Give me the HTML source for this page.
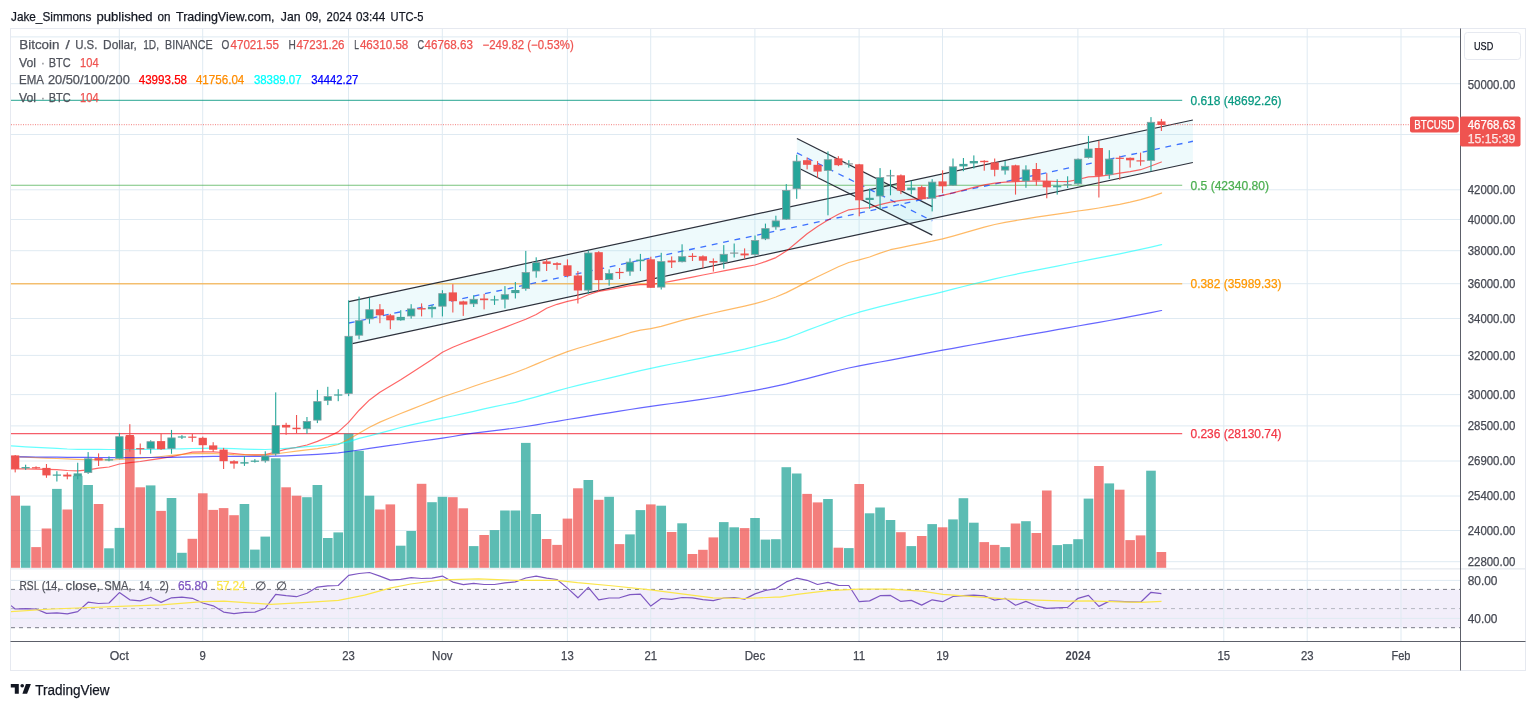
<!DOCTYPE html>
<html lang="en"><head><meta charset="utf-8"><title>BTCUSD chart</title>
<style>
html,body{margin:0;padding:0;background:#fff;}
body{width:1536px;height:708px;overflow:hidden;font-family:"Liberation Sans",sans-serif;}
svg{display:block;font-family:"Liberation Sans",sans-serif;}
.g{stroke:#dfeaf2;stroke-width:1}
.t{fill:#3a3e4a;font-size:12px}
</style></head><body>
<svg width="1536" height="708" viewBox="0 0 1536 708">
<rect width="1536" height="708" fill="#fff"/>
<defs><clipPath id="cp"><rect x="11" y="28.5" width="1449.5" height="540"/></clipPath><clipPath id="cr"><rect x="11" y="569" width="1449.5" height="72"/></clipPath></defs>
<rect x="11" y="589.4" width="1449.5" height="38.3" fill="#f2eefa"/>
<g class="g"><line x1="11" x2="1460" y1="36.9" y2="36.9"/><line x1="11" x2="1460" y1="83.7" y2="83.7"/><line x1="11" x2="1460" y1="134.5" y2="134.5"/><line x1="11" x2="1460" y1="189.8" y2="189.8"/><line x1="11" x2="1460" y1="219.5" y2="219.5"/><line x1="11" x2="1460" y1="250.7" y2="250.7"/><line x1="11" x2="1460" y1="283.7" y2="283.7"/><line x1="11" x2="1460" y1="318.5" y2="318.5"/><line x1="11" x2="1460" y1="355.4" y2="355.4"/><line x1="11" x2="1460" y1="394.6" y2="394.6"/><line x1="11" x2="1460" y1="425.9" y2="425.9"/><line x1="11" x2="1460" y1="461.0" y2="461.0"/><line x1="11" x2="1460" y1="496.0" y2="496.0"/><line x1="11" x2="1460" y1="530.5" y2="530.5"/><line x1="11" x2="1460" y1="561.7" y2="561.7"/><line x1="11" x2="1460" y1="580.4" y2="580.4"/><line x1="11" x2="1460" y1="618.4" y2="618.4"/><line x1="119.3" x2="119.3" y1="28.5" y2="641"/><line x1="202.7" x2="202.7" y1="28.5" y2="641"/><line x1="348.5" x2="348.5" y1="28.5" y2="641"/><line x1="442.3" x2="442.3" y1="28.5" y2="641"/><line x1="567.4" x2="567.4" y1="28.5" y2="641"/><line x1="650.7" x2="650.7" y1="28.5" y2="641"/><line x1="754.9" x2="754.9" y1="28.5" y2="641"/><line x1="859.1" x2="859.1" y1="28.5" y2="641"/><line x1="942.5" x2="942.5" y1="28.5" y2="641"/><line x1="1077.9" x2="1077.9" y1="28.5" y2="641"/><line x1="1223.8" x2="1223.8" y1="28.5" y2="641"/><line x1="1307.2" x2="1307.2" y1="28.5" y2="641"/><line x1="1401.0" x2="1401.0" y1="28.5" y2="641"/></g>
<rect x="10.5" y="28.5" width="1515" height="642" fill="none" stroke="#e6e9f0" stroke-width="1"/>
<line x1="11" x2="1525" y1="568.9" y2="568.9" stroke="#dfe3ea" stroke-width="1"/>
<g clip-path="url(#cp)">
<polygon points="348.9,301.7 1192.9,120.0 1192.9,162.5 348.9,344.3" fill="rgba(120,215,230,0.13)"/>
<polygon points="796.9,138.5 932.3,206.6 932.3,235.1 796.9,167.3" fill="rgba(120,215,230,0.13)"/>
<line x1="11" x2="1182.2" y1="100.3" y2="100.3" stroke="#089981" stroke-width="1.3" stroke-opacity="0.7"/>
<line x1="11" x2="1182.2" y1="185.3" y2="185.3" stroke="#4caf50" stroke-width="1.1" stroke-opacity="0.75"/>
<line x1="11" x2="1182.2" y1="283.8" y2="283.8" stroke="#ff9800" stroke-width="1.6" stroke-opacity="0.55"/>
<line x1="11" x2="1182.2" y1="433.6" y2="433.6" stroke="#f23645" stroke-width="1.2" stroke-opacity="0.8"/>
<rect x="10.40" y="495.7" width="9.6" height="72.1" fill="rgba(239,83,80,0.75)"/><rect x="20.82" y="505.7" width="9.6" height="62.1" fill="rgba(38,166,154,0.75)"/><rect x="31.24" y="547.1" width="9.6" height="20.7" fill="rgba(239,83,80,0.75)"/><rect x="41.66" y="528.5" width="9.6" height="39.3" fill="rgba(239,83,80,0.75)"/><rect x="52.08" y="488.9" width="9.6" height="78.9" fill="rgba(38,166,154,0.75)"/><rect x="62.50" y="509.5" width="9.6" height="58.3" fill="rgba(239,83,80,0.75)"/><rect x="72.92" y="475.8" width="9.6" height="92.0" fill="rgba(38,166,154,0.75)"/><rect x="83.34" y="485.0" width="9.6" height="82.8" fill="rgba(38,166,154,0.75)"/><rect x="93.76" y="504.0" width="9.6" height="63.8" fill="rgba(239,83,80,0.75)"/><rect x="104.18" y="548.3" width="9.6" height="19.5" fill="rgba(38,166,154,0.75)"/><rect x="114.60" y="527.9" width="9.6" height="39.9" fill="rgba(38,166,154,0.75)"/><rect x="125.02" y="436.5" width="9.6" height="131.3" fill="rgba(239,83,80,0.75)"/><rect x="135.44" y="487.3" width="9.6" height="80.5" fill="rgba(239,83,80,0.75)"/><rect x="145.86" y="485.4" width="9.6" height="82.4" fill="rgba(38,166,154,0.75)"/><rect x="156.28" y="510.9" width="9.6" height="56.9" fill="rgba(239,83,80,0.75)"/><rect x="166.70" y="498.0" width="9.6" height="69.8" fill="rgba(38,166,154,0.75)"/><rect x="177.12" y="552.8" width="9.6" height="15.0" fill="rgba(38,166,154,0.75)"/><rect x="187.54" y="538.8" width="9.6" height="29.0" fill="rgba(239,83,80,0.75)"/><rect x="197.96" y="493.3" width="9.6" height="74.5" fill="rgba(239,83,80,0.75)"/><rect x="208.38" y="509.9" width="9.6" height="57.9" fill="rgba(239,83,80,0.75)"/><rect x="218.80" y="508.1" width="9.6" height="59.7" fill="rgba(239,83,80,0.75)"/><rect x="229.22" y="515.2" width="9.6" height="52.6" fill="rgba(239,83,80,0.75)"/><rect x="239.64" y="504.0" width="9.6" height="63.8" fill="rgba(38,166,154,0.75)"/><rect x="250.06" y="549.6" width="9.6" height="18.2" fill="rgba(38,166,154,0.75)"/><rect x="260.48" y="536.6" width="9.6" height="31.2" fill="rgba(38,166,154,0.75)"/><rect x="270.90" y="458.3" width="9.6" height="109.5" fill="rgba(38,166,154,0.75)"/><rect x="281.32" y="487.3" width="9.6" height="80.5" fill="rgba(239,83,80,0.75)"/><rect x="291.74" y="495.7" width="9.6" height="72.1" fill="rgba(239,83,80,0.75)"/><rect x="302.16" y="497.2" width="9.6" height="70.6" fill="rgba(38,166,154,0.75)"/><rect x="312.58" y="485.0" width="9.6" height="82.8" fill="rgba(38,166,154,0.75)"/><rect x="323.00" y="538.0" width="9.6" height="29.8" fill="rgba(38,166,154,0.75)"/><rect x="333.42" y="532.4" width="9.6" height="35.4" fill="rgba(38,166,154,0.75)"/><rect x="343.84" y="433.6" width="9.6" height="134.2" fill="rgba(38,166,154,0.75)"/><rect x="354.26" y="450.8" width="9.6" height="117.0" fill="rgba(38,166,154,0.75)"/><rect x="364.68" y="495.7" width="9.6" height="72.1" fill="rgba(38,166,154,0.75)"/><rect x="375.10" y="509.5" width="9.6" height="58.3" fill="rgba(239,83,80,0.75)"/><rect x="385.52" y="504.4" width="9.6" height="63.4" fill="rgba(239,83,80,0.75)"/><rect x="395.94" y="545.7" width="9.6" height="22.1" fill="rgba(38,166,154,0.75)"/><rect x="406.36" y="531.0" width="9.6" height="36.8" fill="rgba(38,166,154,0.75)"/><rect x="416.78" y="483.8" width="9.6" height="84.0" fill="rgba(239,83,80,0.75)"/><rect x="427.20" y="502.2" width="9.6" height="65.6" fill="rgba(38,166,154,0.75)"/><rect x="437.62" y="496.8" width="9.6" height="71.0" fill="rgba(38,166,154,0.75)"/><rect x="448.04" y="497.2" width="9.6" height="70.6" fill="rgba(239,83,80,0.75)"/><rect x="458.46" y="508.3" width="9.6" height="59.5" fill="rgba(239,83,80,0.75)"/><rect x="468.88" y="546.1" width="9.6" height="21.7" fill="rgba(38,166,154,0.75)"/><rect x="479.30" y="535.0" width="9.6" height="32.8" fill="rgba(239,83,80,0.75)"/><rect x="489.72" y="530.1" width="9.6" height="37.7" fill="rgba(38,166,154,0.75)"/><rect x="500.14" y="510.5" width="9.6" height="57.3" fill="rgba(38,166,154,0.75)"/><rect x="510.56" y="510.5" width="9.6" height="57.3" fill="rgba(38,166,154,0.75)"/><rect x="520.98" y="442.9" width="9.6" height="124.9" fill="rgba(38,166,154,0.75)"/><rect x="531.40" y="514.0" width="9.6" height="53.8" fill="rgba(38,166,154,0.75)"/><rect x="541.82" y="539.0" width="9.6" height="28.8" fill="rgba(239,83,80,0.75)"/><rect x="552.24" y="544.9" width="9.6" height="22.9" fill="rgba(239,83,80,0.75)"/><rect x="562.66" y="518.6" width="9.6" height="49.2" fill="rgba(239,83,80,0.75)"/><rect x="573.08" y="488.3" width="9.6" height="79.5" fill="rgba(239,83,80,0.75)"/><rect x="583.50" y="480.0" width="9.6" height="87.8" fill="rgba(38,166,154,0.75)"/><rect x="593.92" y="499.8" width="9.6" height="68.0" fill="rgba(239,83,80,0.75)"/><rect x="604.34" y="496.8" width="9.6" height="71.0" fill="rgba(38,166,154,0.75)"/><rect x="614.76" y="544.1" width="9.6" height="23.7" fill="rgba(239,83,80,0.75)"/><rect x="625.18" y="534.4" width="9.6" height="33.4" fill="rgba(38,166,154,0.75)"/><rect x="635.60" y="510.1" width="9.6" height="57.7" fill="rgba(38,166,154,0.75)"/><rect x="646.02" y="504.4" width="9.6" height="63.4" fill="rgba(239,83,80,0.75)"/><rect x="656.44" y="505.7" width="9.6" height="62.1" fill="rgba(38,166,154,0.75)"/><rect x="666.86" y="532.0" width="9.6" height="35.8" fill="rgba(239,83,80,0.75)"/><rect x="677.28" y="523.3" width="9.6" height="44.5" fill="rgba(38,166,154,0.75)"/><rect x="687.70" y="554.0" width="9.6" height="13.8" fill="rgba(239,83,80,0.75)"/><rect x="698.12" y="549.8" width="9.6" height="18.0" fill="rgba(239,83,80,0.75)"/><rect x="708.54" y="537.4" width="9.6" height="30.4" fill="rgba(239,83,80,0.75)"/><rect x="718.96" y="522.1" width="9.6" height="45.7" fill="rgba(38,166,154,0.75)"/><rect x="729.38" y="527.3" width="9.6" height="40.5" fill="rgba(38,166,154,0.75)"/><rect x="739.80" y="528.1" width="9.6" height="39.7" fill="rgba(239,83,80,0.75)"/><rect x="750.22" y="518.0" width="9.6" height="49.8" fill="rgba(38,166,154,0.75)"/><rect x="760.64" y="539.6" width="9.6" height="28.2" fill="rgba(38,166,154,0.75)"/><rect x="771.06" y="539.2" width="9.6" height="28.6" fill="rgba(38,166,154,0.75)"/><rect x="781.48" y="467.2" width="9.6" height="100.6" fill="rgba(38,166,154,0.75)"/><rect x="791.90" y="473.5" width="9.6" height="94.3" fill="rgba(38,166,154,0.75)"/><rect x="802.32" y="493.9" width="9.6" height="73.9" fill="rgba(239,83,80,0.75)"/><rect x="812.74" y="502.4" width="9.6" height="65.4" fill="rgba(239,83,80,0.75)"/><rect x="823.16" y="499.0" width="9.6" height="68.8" fill="rgba(38,166,154,0.75)"/><rect x="833.58" y="547.7" width="9.6" height="20.1" fill="rgba(239,83,80,0.75)"/><rect x="844.00" y="548.1" width="9.6" height="19.7" fill="rgba(38,166,154,0.75)"/><rect x="854.42" y="484.0" width="9.6" height="83.8" fill="rgba(239,83,80,0.75)"/><rect x="864.84" y="513.3" width="9.6" height="54.5" fill="rgba(38,166,154,0.75)"/><rect x="875.26" y="507.5" width="9.6" height="60.3" fill="rgba(38,166,154,0.75)"/><rect x="885.68" y="520.0" width="9.6" height="47.8" fill="rgba(38,166,154,0.75)"/><rect x="896.10" y="532.2" width="9.6" height="35.6" fill="rgba(239,83,80,0.75)"/><rect x="906.52" y="546.1" width="9.6" height="21.7" fill="rgba(38,166,154,0.75)"/><rect x="916.94" y="536.0" width="9.6" height="31.8" fill="rgba(239,83,80,0.75)"/><rect x="927.36" y="524.1" width="9.6" height="43.7" fill="rgba(38,166,154,0.75)"/><rect x="937.78" y="527.3" width="9.6" height="40.5" fill="rgba(239,83,80,0.75)"/><rect x="948.20" y="519.4" width="9.6" height="48.4" fill="rgba(38,166,154,0.75)"/><rect x="958.62" y="498.2" width="9.6" height="69.6" fill="rgba(38,166,154,0.75)"/><rect x="969.04" y="522.7" width="9.6" height="45.1" fill="rgba(38,166,154,0.75)"/><rect x="979.46" y="542.1" width="9.6" height="25.7" fill="rgba(239,83,80,0.75)"/><rect x="989.88" y="544.9" width="9.6" height="22.9" fill="rgba(239,83,80,0.75)"/><rect x="1000.30" y="547.1" width="9.6" height="20.7" fill="rgba(38,166,154,0.75)"/><rect x="1010.72" y="523.5" width="9.6" height="44.3" fill="rgba(239,83,80,0.75)"/><rect x="1021.14" y="521.2" width="9.6" height="46.6" fill="rgba(38,166,154,0.75)"/><rect x="1031.56" y="533.0" width="9.6" height="34.8" fill="rgba(239,83,80,0.75)"/><rect x="1041.98" y="490.5" width="9.6" height="77.3" fill="rgba(239,83,80,0.75)"/><rect x="1052.40" y="545.1" width="9.6" height="22.7" fill="rgba(38,166,154,0.75)"/><rect x="1062.82" y="544.1" width="9.6" height="23.7" fill="rgba(38,166,154,0.75)"/><rect x="1073.24" y="539.2" width="9.6" height="28.6" fill="rgba(38,166,154,0.75)"/><rect x="1083.66" y="498.6" width="9.6" height="69.2" fill="rgba(38,166,154,0.75)"/><rect x="1094.08" y="466.0" width="9.6" height="101.8" fill="rgba(239,83,80,0.75)"/><rect x="1104.50" y="483.4" width="9.6" height="84.4" fill="rgba(38,166,154,0.75)"/><rect x="1114.92" y="489.7" width="9.6" height="78.1" fill="rgba(239,83,80,0.75)"/><rect x="1125.34" y="540.1" width="9.6" height="27.7" fill="rgba(239,83,80,0.75)"/><rect x="1135.76" y="535.4" width="9.6" height="32.4" fill="rgba(239,83,80,0.75)"/><rect x="1146.18" y="470.7" width="9.6" height="97.1" fill="rgba(38,166,154,0.75)"/><rect x="1156.60" y="552.0" width="9.6" height="15.8" fill="rgba(239,83,80,0.75)"/>
<g stroke="#2c303b" stroke-width="1.2" fill="none"><line x1="348.9" y1="301.7" x2="1192.9" y2="120.0"/><line x1="348.9" y1="344.3" x2="1192.9" y2="162.5"/><line x1="796.9" y1="138.5" x2="932.3" y2="206.6"/><line x1="796.9" y1="167.3" x2="932.3" y2="235.1"/></g>
<g stroke="#2962ff" stroke-width="1.3" stroke-dasharray="5.85 5.75" fill="none" stroke-opacity="0.9"><line x1="348.9" y1="323.0" x2="1192.9" y2="141.25"/><line x1="796.9" y1="152.9" x2="932.3" y2="220.85"/></g>
<line x1="11" x2="1410" y1="124.7" y2="124.7" stroke="#ef5350" stroke-width="1" stroke-dasharray="1 1.4" stroke-opacity="0.75"/>
<polyline points="10.5,468.9 15.2,468.9 25.6,468.9 36.0,469.1 46.5,469.3 56.9,469.7 67.3,470.5 77.7,470.9 88.1,469.8 98.6,468.2 109.0,467.0 119.4,464.0 129.8,462.7 140.2,461.5 150.7,459.8 161.1,458.4 171.5,456.7 181.9,454.5 192.3,452.2 202.8,451.9 213.2,451.9 223.6,452.5 234.0,453.5 244.4,454.5 254.9,454.8 265.3,454.6 275.7,452.0 286.1,449.2 296.5,447.3 307.0,445.0 317.4,441.4 327.8,436.9 338.2,431.9 348.6,422.4 359.1,410.2 369.5,399.9 379.9,392.2 390.3,386.1 400.7,379.8 411.2,373.0 421.6,366.3 432.0,359.5 442.4,352.2 452.8,347.2 463.3,343.0 473.7,339.1 484.1,335.2 494.5,331.3 504.9,327.4 515.4,323.3 525.8,319.2 536.2,314.5 546.6,308.3 557.0,304.3 567.5,301.3 577.9,299.2 588.3,294.7 598.7,291.4 609.1,289.6 619.6,287.7 630.0,285.7 640.4,284.7 650.8,284.7 661.2,283.0 671.7,281.1 682.1,279.1 692.5,277.1 702.9,275.0 713.3,273.0 723.8,270.9 734.2,268.9 744.6,266.9 755.0,265.0 765.4,261.6 775.9,257.6 786.3,251.1 796.7,242.5 807.1,233.7 817.5,226.5 828.0,220.0 838.4,214.3 848.8,209.8 859.2,208.5 869.6,207.6 880.1,204.7 890.5,202.2 900.9,200.3 911.3,199.4 921.7,198.6 932.2,197.2 942.6,195.3 953.0,192.9 963.4,190.2 973.8,187.4 984.3,184.8 994.7,183.2 1005.1,182.2 1015.5,181.6 1025.9,181.2 1036.4,181.0 1046.8,181.2 1057.2,181.5 1067.6,181.7 1078.0,179.5 1088.5,176.9 1098.9,176.3 1109.3,174.8 1119.7,173.1 1130.1,171.6 1140.6,169.7 1151.0,166.0 1161.4,162.0" fill="none" stroke="rgba(255,0,0,0.6)" stroke-width="1.2" stroke-linejoin="round" stroke-linecap="round"/>
<polyline points="20.0,456.8 25.6,457.1 36.0,457.6 46.5,458.1 56.9,458.5 67.3,458.9 77.7,459.3 88.1,459.6 98.6,459.7 109.0,459.8 119.4,459.5 129.8,458.9 140.2,458.3 150.7,457.5 161.1,456.5 171.5,455.3 181.9,454.4 192.3,453.6 202.8,453.4 213.2,453.7 223.6,454.0 234.0,454.6 244.4,454.9 254.9,455.2 265.3,455.2 275.7,453.8 286.1,452.5 296.5,451.2 307.0,449.9 317.4,448.6 327.8,447.0 338.2,444.5 348.6,439.3 359.1,433.2 369.5,427.2 379.9,422.1 390.3,417.7 400.7,413.5 411.2,409.4 421.6,405.2 432.0,401.1 442.4,397.0 452.8,393.5 463.3,390.0 473.7,386.3 484.1,382.8 494.5,379.5 504.9,376.1 515.4,372.5 525.8,368.5 536.2,364.1 546.6,359.8 557.0,355.6 567.5,351.6 577.9,348.3 588.3,345.2 598.7,342.2 609.1,339.2 619.6,336.1 630.0,332.7 640.4,330.1 650.8,328.7 661.2,326.3 671.7,323.3 682.1,320.4 692.5,317.9 702.9,315.4 713.3,313.0 723.8,310.7 734.2,308.4 744.6,306.1 755.0,303.7 765.4,300.7 775.9,297.0 786.3,292.6 796.7,287.4 807.1,281.9 817.5,276.7 828.0,271.7 838.4,266.8 848.8,262.5 859.2,259.9 869.6,257.0 880.1,253.1 890.5,249.7 900.9,247.6 911.3,245.4 921.7,243.3 932.2,241.2 942.6,238.8 953.0,236.1 963.4,233.2 973.8,230.1 984.3,227.2 994.7,224.5 1005.1,222.4 1015.5,220.6 1025.9,218.8 1036.4,217.2 1046.8,215.7 1057.2,214.1 1067.6,212.6 1078.0,211.0 1088.5,209.6 1098.9,208.0 1109.3,206.2 1119.7,204.3 1130.1,202.1 1140.6,199.6 1151.0,196.6 1161.4,193.1 1161.6,193.0" fill="none" stroke="rgba(255,140,0,0.6)" stroke-width="1.2" stroke-linejoin="round" stroke-linecap="round"/>
<polyline points="10.5,445.9 15.2,446.2 25.6,446.8 36.0,447.3 46.5,447.8 56.9,448.4 67.3,449.0 77.7,449.3 88.1,449.4 98.6,449.4 109.0,449.5 119.4,449.5 129.8,449.5 140.2,449.4 150.7,449.3 161.1,449.2 171.5,449.0 181.9,448.8 192.3,448.5 202.8,448.3 213.2,448.2 223.6,448.3 234.0,448.7 244.4,449.1 254.9,449.4 265.3,449.5 275.7,449.0 286.1,448.4 296.5,447.6 307.0,446.7 317.4,445.8 327.8,444.9 338.2,443.8 348.6,441.9 359.1,438.4 369.5,435.8 379.9,433.2 390.3,430.3 400.7,427.5 411.2,424.9 421.6,422.6 432.0,420.4 442.4,418.2 452.8,416.0 463.3,413.7 473.7,411.3 484.1,408.8 494.5,406.7 504.9,404.5 515.4,402.3 525.8,399.6 536.2,396.8 546.6,393.8 557.0,390.9 567.5,388.0 577.9,385.4 588.3,382.9 598.7,380.5 609.1,378.1 619.6,375.6 630.0,373.1 640.4,370.6 650.8,368.3 661.2,366.1 671.7,364.0 682.1,362.0 692.5,359.9 702.9,357.8 713.3,355.7 723.8,353.6 734.2,351.4 744.6,349.1 755.0,346.5 765.4,343.8 775.9,341.4 786.3,338.4 796.7,334.5 807.1,330.4 817.5,326.5 828.0,322.6 838.4,318.8 848.8,315.3 859.2,312.2 869.6,309.4 880.1,306.7 890.5,304.1 900.9,301.6 911.3,299.1 921.7,296.7 932.2,294.3 942.6,291.8 953.0,289.2 963.4,286.5 973.8,283.9 984.3,281.3 994.7,278.8 1005.1,276.5 1015.5,274.3 1025.9,272.2 1036.4,270.2 1046.8,268.1 1057.2,266.1 1067.6,264.0 1078.0,262.0 1088.5,259.9 1098.9,257.9 1109.3,255.9 1119.7,253.8 1130.1,251.6 1140.6,249.4 1151.0,247.1 1161.4,244.6 1161.6,244.6" fill="none" stroke="rgba(0,255,255,0.6)" stroke-width="1.2" stroke-linejoin="round" stroke-linecap="round"/>
<polyline points="10.5,456.8 15.2,456.8 25.6,456.9 36.0,457.0 46.5,457.1 56.9,457.2 67.3,457.3 77.7,457.4 88.1,457.4 98.6,457.5 109.0,457.6 119.4,457.6 129.8,457.6 140.2,457.5 150.7,457.5 161.1,457.4 171.5,457.3 181.9,457.2 192.3,456.9 202.8,456.6 213.2,456.4 223.6,456.4 234.0,456.4 244.4,456.4 254.9,456.4 265.3,456.4 275.7,456.2 286.1,455.8 296.5,455.4 307.0,454.9 317.4,454.3 327.8,453.6 338.2,452.8 348.6,451.5 359.1,450.0 369.5,448.4 379.9,446.8 390.3,445.4 400.7,444.0 411.2,442.4 421.6,441.0 432.0,439.6 442.4,438.1 452.8,436.5 463.3,434.7 473.7,433.2 484.1,431.9 494.5,430.6 504.9,429.4 515.4,428.0 525.8,426.5 536.2,424.8 546.6,423.0 557.0,421.3 567.5,419.5 577.9,417.8 588.3,416.1 598.7,414.4 609.1,412.8 619.6,411.1 630.0,409.5 640.4,407.8 650.8,406.3 661.2,404.8 671.7,403.5 682.1,402.2 692.5,400.7 702.9,399.2 713.3,397.5 723.8,395.8 734.2,394.0 744.6,392.2 755.0,390.3 765.4,388.3 775.9,386.1 786.3,383.8 796.7,381.2 807.1,378.6 817.5,375.9 828.0,373.2 838.4,370.5 848.8,368.0 859.2,365.9 869.6,363.9 880.1,362.0 890.5,360.1 900.9,358.1 911.3,356.1 921.7,354.1 932.2,352.2 942.6,350.2 953.0,348.3 963.4,346.4 973.8,344.5 984.3,342.6 994.7,340.7 1005.1,338.8 1015.5,337.0 1025.9,335.2 1036.4,333.4 1046.8,331.6 1057.2,329.7 1067.6,327.9 1078.0,326.0 1088.5,324.2 1098.9,322.3 1109.3,320.5 1119.7,318.6 1130.1,316.6 1140.6,314.7 1151.0,312.6 1161.4,310.5 1161.6,310.5" fill="none" stroke="rgba(0,0,255,0.6)" stroke-width="1.2" stroke-linejoin="round" stroke-linecap="round"/>
<rect x="14.65" y="455.0" width="1.1" height="17.4" fill="#ef5350"/><rect x="11.10" y="455.4" width="8.2" height="13.5" fill="#ef5350"/><rect x="25.07" y="464.7" width="1.1" height="5.2" fill="#26a69a"/><rect x="21.52" y="467.1" width="8.2" height="1.2" fill="#45a59b"/><rect x="35.49" y="466.3" width="1.1" height="2.6" fill="#ef5350"/><rect x="31.94" y="467.2" width="8.2" height="1.2" fill="#ef5350"/><rect x="45.91" y="464.0" width="1.1" height="13.8" fill="#ef5350"/><rect x="42.36" y="467.9" width="8.2" height="7.5" fill="#ef5350"/><rect x="56.33" y="471.2" width="1.1" height="10.3" fill="#26a69a"/><rect x="52.78" y="474.5" width="8.2" height="1.2" fill="#45a59b"/><rect x="66.75" y="472.4" width="1.1" height="6.9" fill="#ef5350"/><rect x="63.20" y="474.6" width="8.2" height="1.9" fill="#ef5350"/><rect x="77.17" y="462.7" width="1.1" height="16.6" fill="#26a69a"/><rect x="73.62" y="473.4" width="8.2" height="2.8" fill="#45a59b"/><rect x="87.59" y="452.1" width="1.1" height="21.8" fill="#26a69a"/><rect x="84.44" y="458.8" width="7.4" height="13.7" fill="#26a69a" stroke="#869ea1" stroke-width="0.8"/><rect x="98.01" y="453.4" width="1.1" height="12.6" fill="#ef5350"/><rect x="94.46" y="458.1" width="8.2" height="2.4" fill="#ef5350"/><rect x="108.43" y="456.4" width="1.1" height="4.9" fill="#26a69a"/><rect x="104.88" y="459.3" width="8.2" height="1.2" fill="#45a59b"/><rect x="118.85" y="432.9" width="1.1" height="26.3" fill="#26a69a"/><rect x="115.70" y="436.7" width="7.4" height="21.7" fill="#26a69a" stroke="#869ea1" stroke-width="0.8"/><rect x="129.27" y="424.2" width="1.1" height="27.4" fill="#ef5350"/><rect x="125.72" y="435.0" width="8.2" height="14.4" fill="#ef5350"/><rect x="139.69" y="443.5" width="1.1" height="10.9" fill="#ef5350"/><rect x="136.14" y="448.1" width="8.2" height="1.2" fill="#ef5350"/><rect x="150.11" y="440.3" width="1.1" height="13.3" fill="#26a69a"/><rect x="146.96" y="441.7" width="7.4" height="6.8" fill="#26a69a" stroke="#869ea1" stroke-width="0.8"/><rect x="160.53" y="433.8" width="1.1" height="16.1" fill="#ef5350"/><rect x="156.98" y="441.1" width="8.2" height="8.1" fill="#ef5350"/><rect x="170.95" y="429.9" width="1.1" height="23.9" fill="#26a69a"/><rect x="167.80" y="437.9" width="7.4" height="10.6" fill="#26a69a" stroke="#869ea1" stroke-width="0.8"/><rect x="181.37" y="435.1" width="1.1" height="3.9" fill="#26a69a"/><rect x="177.82" y="436.4" width="8.2" height="1.2" fill="#45a59b"/><rect x="191.79" y="433.8" width="1.1" height="8.1" fill="#ef5350"/><rect x="188.24" y="436.6" width="8.2" height="1.2" fill="#ef5350"/><rect x="202.21" y="436.6" width="1.1" height="15.5" fill="#ef5350"/><rect x="198.66" y="437.8" width="8.2" height="7.4" fill="#ef5350"/><rect x="212.63" y="442.2" width="1.1" height="9.6" fill="#ef5350"/><rect x="209.08" y="445.4" width="8.2" height="4.3" fill="#ef5350"/><rect x="223.05" y="447.9" width="1.1" height="21.1" fill="#ef5350"/><rect x="219.50" y="449.6" width="8.2" height="11.6" fill="#ef5350"/><rect x="233.47" y="460.2" width="1.1" height="8.5" fill="#ef5350"/><rect x="229.92" y="461.2" width="8.2" height="2.4" fill="#ef5350"/><rect x="243.89" y="456.0" width="1.1" height="9.9" fill="#26a69a"/><rect x="240.34" y="462.2" width="8.2" height="1.4" fill="#45a59b"/><rect x="254.31" y="459.1" width="1.1" height="3.5" fill="#26a69a"/><rect x="250.76" y="460.6" width="8.2" height="1.2" fill="#45a59b"/><rect x="264.73" y="451.3" width="1.1" height="11.3" fill="#26a69a"/><rect x="261.58" y="456.0" width="7.4" height="4.8" fill="#26a69a" stroke="#869ea1" stroke-width="0.8"/><rect x="275.15" y="392.4" width="1.1" height="63.2" fill="#26a69a"/><rect x="272.00" y="425.6" width="7.4" height="28.2" fill="#26a69a" stroke="#869ea1" stroke-width="0.8"/><rect x="285.57" y="422.8" width="1.1" height="12.0" fill="#ef5350"/><rect x="282.02" y="424.9" width="8.2" height="2.6" fill="#ef5350"/><rect x="295.99" y="415.0" width="1.1" height="18.4" fill="#ef5350"/><rect x="292.44" y="427.7" width="8.2" height="1.5" fill="#ef5350"/><rect x="306.41" y="417.0" width="1.1" height="16.7" fill="#26a69a"/><rect x="303.26" y="421.4" width="7.4" height="7.4" fill="#26a69a" stroke="#869ea1" stroke-width="0.8"/><rect x="316.83" y="389.9" width="1.1" height="33.2" fill="#26a69a"/><rect x="313.68" y="401.6" width="7.4" height="18.5" fill="#26a69a" stroke="#869ea1" stroke-width="0.8"/><rect x="327.25" y="386.8" width="1.1" height="18.3" fill="#26a69a"/><rect x="324.10" y="396.6" width="7.4" height="3.8" fill="#26a69a" stroke="#869ea1" stroke-width="0.8"/><rect x="337.67" y="389.2" width="1.1" height="12.0" fill="#26a69a"/><rect x="334.12" y="394.4" width="8.2" height="1.2" fill="#45a59b"/><rect x="348.09" y="300.3" width="1.1" height="95.8" fill="#26a69a"/><rect x="344.94" y="336.3" width="7.4" height="57.2" fill="#26a69a" stroke="#869ea1" stroke-width="0.8"/><rect x="358.51" y="296.6" width="1.1" height="42.7" fill="#26a69a"/><rect x="355.36" y="320.7" width="7.4" height="14.5" fill="#26a69a" stroke="#869ea1" stroke-width="0.8"/><rect x="368.93" y="297.8" width="1.1" height="25.9" fill="#26a69a"/><rect x="365.78" y="309.7" width="7.4" height="9.2" fill="#26a69a" stroke="#869ea1" stroke-width="0.8"/><rect x="379.35" y="304.1" width="1.1" height="19.1" fill="#ef5350"/><rect x="375.80" y="309.3" width="8.2" height="6.0" fill="#ef5350"/><rect x="389.77" y="313.9" width="1.1" height="15.3" fill="#ef5350"/><rect x="386.22" y="315.3" width="8.2" height="5.0" fill="#ef5350"/><rect x="400.19" y="310.2" width="1.1" height="10.5" fill="#26a69a"/><rect x="396.64" y="316.9" width="8.2" height="3.4" fill="#45a59b"/><rect x="410.61" y="304.2" width="1.1" height="14.4" fill="#26a69a"/><rect x="407.46" y="308.9" width="7.4" height="7.1" fill="#26a69a" stroke="#869ea1" stroke-width="0.8"/><rect x="421.03" y="303.4" width="1.1" height="13.0" fill="#ef5350"/><rect x="417.48" y="308.1" width="8.2" height="1.4" fill="#ef5350"/><rect x="431.45" y="305.1" width="1.1" height="12.5" fill="#26a69a"/><rect x="427.90" y="306.8" width="8.2" height="2.4" fill="#45a59b"/><rect x="441.87" y="290.2" width="1.1" height="26.2" fill="#26a69a"/><rect x="438.72" y="293.6" width="7.4" height="12.6" fill="#26a69a" stroke="#869ea1" stroke-width="0.8"/><rect x="452.29" y="284.2" width="1.1" height="28.3" fill="#ef5350"/><rect x="448.74" y="292.4" width="8.2" height="8.8" fill="#ef5350"/><rect x="462.71" y="300.7" width="1.1" height="15.2" fill="#ef5350"/><rect x="459.16" y="301.4" width="8.2" height="3.2" fill="#ef5350"/><rect x="473.13" y="295.3" width="1.1" height="11.7" fill="#26a69a"/><rect x="469.98" y="299.3" width="7.4" height="4.5" fill="#26a69a" stroke="#869ea1" stroke-width="0.8"/><rect x="483.55" y="293.9" width="1.1" height="15.5" fill="#ef5350"/><rect x="480.00" y="298.5" width="8.2" height="1.7" fill="#ef5350"/><rect x="493.97" y="295.7" width="1.1" height="9.2" fill="#26a69a"/><rect x="490.42" y="299.3" width="8.2" height="1.2" fill="#45a59b"/><rect x="504.39" y="286.1" width="1.1" height="22.3" fill="#26a69a"/><rect x="501.24" y="294.7" width="7.4" height="4.5" fill="#26a69a" stroke="#869ea1" stroke-width="0.8"/><rect x="514.81" y="282.0" width="1.1" height="16.5" fill="#26a69a"/><rect x="511.26" y="290.0" width="8.2" height="3.1" fill="#45a59b"/><rect x="525.23" y="250.9" width="1.1" height="39.8" fill="#26a69a"/><rect x="522.08" y="272.5" width="7.4" height="16.1" fill="#26a69a" stroke="#869ea1" stroke-width="0.8"/><rect x="535.65" y="257.3" width="1.1" height="20.4" fill="#26a69a"/><rect x="532.50" y="262.6" width="7.4" height="8.4" fill="#26a69a" stroke="#869ea1" stroke-width="0.8"/><rect x="546.07" y="259.4" width="1.1" height="11.6" fill="#ef5350"/><rect x="542.52" y="261.4" width="8.2" height="2.5" fill="#ef5350"/><rect x="556.49" y="262.2" width="1.1" height="7.6" fill="#ef5350"/><rect x="552.94" y="263.2" width="8.2" height="1.7" fill="#ef5350"/><rect x="566.91" y="259.4" width="1.1" height="17.9" fill="#ef5350"/><rect x="563.36" y="265.3" width="8.2" height="10.6" fill="#ef5350"/><rect x="577.33" y="271.0" width="1.1" height="32.5" fill="#ef5350"/><rect x="573.78" y="275.5" width="8.2" height="15.0" fill="#ef5350"/><rect x="587.75" y="250.9" width="1.1" height="43.0" fill="#26a69a"/><rect x="584.60" y="253.0" width="7.4" height="37.1" fill="#26a69a" stroke="#869ea1" stroke-width="0.8"/><rect x="598.17" y="251.2" width="1.1" height="40.2" fill="#ef5350"/><rect x="594.62" y="252.2" width="8.2" height="27.9" fill="#ef5350"/><rect x="608.59" y="269.4" width="1.1" height="16.3" fill="#26a69a"/><rect x="605.44" y="273.4" width="7.4" height="6.2" fill="#26a69a" stroke="#869ea1" stroke-width="0.8"/><rect x="619.01" y="268.0" width="1.1" height="11.0" fill="#ef5350"/><rect x="615.46" y="271.9" width="8.2" height="1.2" fill="#ef5350"/><rect x="629.43" y="258.4" width="1.1" height="17.4" fill="#26a69a"/><rect x="626.28" y="262.1" width="7.4" height="9.1" fill="#26a69a" stroke="#869ea1" stroke-width="0.8"/><rect x="639.85" y="253.9" width="1.1" height="17.2" fill="#26a69a"/><rect x="636.30" y="259.6" width="8.2" height="1.6" fill="#45a59b"/><rect x="650.27" y="256.7" width="1.1" height="31.1" fill="#ef5350"/><rect x="646.72" y="259.3" width="8.2" height="28.5" fill="#ef5350"/><rect x="660.69" y="252.8" width="1.1" height="36.7" fill="#26a69a"/><rect x="657.54" y="261.6" width="7.4" height="25.5" fill="#26a69a" stroke="#869ea1" stroke-width="0.8"/><rect x="671.11" y="256.4" width="1.1" height="11.6" fill="#ef5350"/><rect x="667.56" y="260.5" width="8.2" height="1.9" fill="#ef5350"/><rect x="681.53" y="244.3" width="1.1" height="18.1" fill="#26a69a"/><rect x="678.38" y="256.7" width="7.4" height="5.0" fill="#26a69a" stroke="#869ea1" stroke-width="0.8"/><rect x="691.95" y="253.2" width="1.1" height="7.8" fill="#ef5350"/><rect x="688.40" y="255.8" width="8.2" height="1.2" fill="#ef5350"/><rect x="702.37" y="255.3" width="1.1" height="12.7" fill="#ef5350"/><rect x="698.82" y="256.3" width="8.2" height="4.4" fill="#ef5350"/><rect x="712.79" y="258.4" width="1.1" height="13.2" fill="#ef5350"/><rect x="709.24" y="261.0" width="8.2" height="1.7" fill="#ef5350"/><rect x="723.21" y="245.1" width="1.1" height="23.6" fill="#26a69a"/><rect x="720.06" y="254.3" width="7.4" height="7.7" fill="#26a69a" stroke="#869ea1" stroke-width="0.8"/><rect x="733.63" y="243.5" width="1.1" height="14.0" fill="#26a69a"/><rect x="730.08" y="252.5" width="8.2" height="1.2" fill="#8d979c"/><rect x="744.05" y="248.4" width="1.1" height="10.1" fill="#ef5350"/><rect x="740.50" y="253.5" width="8.2" height="1.9" fill="#ef5350"/><rect x="754.47" y="235.5" width="1.1" height="20.2" fill="#26a69a"/><rect x="751.32" y="240.5" width="7.4" height="13.9" fill="#26a69a" stroke="#869ea1" stroke-width="0.8"/><rect x="764.89" y="223.6" width="1.1" height="16.5" fill="#26a69a"/><rect x="761.74" y="228.6" width="7.4" height="10.2" fill="#26a69a" stroke="#869ea1" stroke-width="0.8"/><rect x="775.31" y="215.7" width="1.1" height="14.0" fill="#26a69a"/><rect x="772.16" y="220.9" width="7.4" height="6.0" fill="#26a69a" stroke="#869ea1" stroke-width="0.8"/><rect x="785.73" y="184.1" width="1.1" height="35.8" fill="#26a69a"/><rect x="782.58" y="190.4" width="7.4" height="28.8" fill="#26a69a" stroke="#869ea1" stroke-width="0.8"/><rect x="796.15" y="154.7" width="1.1" height="44.1" fill="#26a69a"/><rect x="793.00" y="161.2" width="7.4" height="27.6" fill="#26a69a" stroke="#869ea1" stroke-width="0.8"/><rect x="806.57" y="157.5" width="1.1" height="11.9" fill="#ef5350"/><rect x="803.02" y="160.2" width="8.2" height="4.6" fill="#ef5350"/><rect x="816.99" y="161.1" width="1.1" height="16.6" fill="#ef5350"/><rect x="813.44" y="164.8" width="8.2" height="6.8" fill="#ef5350"/><rect x="827.41" y="151.4" width="1.1" height="63.9" fill="#26a69a"/><rect x="824.26" y="159.7" width="7.4" height="10.8" fill="#26a69a" stroke="#869ea1" stroke-width="0.8"/><rect x="837.83" y="156.2" width="1.1" height="9.9" fill="#ef5350"/><rect x="834.28" y="158.4" width="8.2" height="6.8" fill="#ef5350"/><rect x="848.25" y="160.2" width="1.1" height="7.4" fill="#26a69a"/><rect x="844.70" y="163.3" width="8.2" height="1.2" fill="#8d979c"/><rect x="858.67" y="163.9" width="1.1" height="52.4" fill="#ef5350"/><rect x="855.12" y="164.3" width="8.2" height="36.0" fill="#ef5350"/><rect x="869.09" y="188.5" width="1.1" height="20.3" fill="#26a69a"/><rect x="865.54" y="197.8" width="8.2" height="2.2" fill="#45a59b"/><rect x="879.51" y="168.1" width="1.1" height="41.2" fill="#26a69a"/><rect x="876.36" y="177.5" width="7.4" height="18.5" fill="#26a69a" stroke="#869ea1" stroke-width="0.8"/><rect x="889.93" y="169.8" width="1.1" height="25.5" fill="#26a69a"/><rect x="886.38" y="175.2" width="8.2" height="1.2" fill="#8d979c"/><rect x="900.35" y="174.4" width="1.1" height="19.7" fill="#ef5350"/><rect x="896.80" y="175.3" width="8.2" height="15.4" fill="#ef5350"/><rect x="910.77" y="180.8" width="1.1" height="13.6" fill="#26a69a"/><rect x="907.22" y="187.6" width="8.2" height="2.6" fill="#45a59b"/><rect x="921.19" y="185.6" width="1.1" height="14.2" fill="#ef5350"/><rect x="917.64" y="187.1" width="8.2" height="12.1" fill="#ef5350"/><rect x="931.61" y="179.2" width="1.1" height="32.2" fill="#26a69a"/><rect x="928.46" y="182.1" width="7.4" height="16.1" fill="#26a69a" stroke="#869ea1" stroke-width="0.8"/><rect x="942.03" y="170.3" width="1.1" height="22.8" fill="#ef5350"/><rect x="938.48" y="181.4" width="8.2" height="4.9" fill="#ef5350"/><rect x="952.45" y="158.5" width="1.1" height="27.4" fill="#26a69a"/><rect x="949.30" y="166.8" width="7.4" height="18.4" fill="#26a69a" stroke="#869ea1" stroke-width="0.8"/><rect x="962.87" y="158.0" width="1.1" height="13.2" fill="#26a69a"/><rect x="959.32" y="163.9" width="8.2" height="2.5" fill="#45a59b"/><rect x="973.29" y="155.4" width="1.1" height="13.2" fill="#26a69a"/><rect x="969.74" y="161.0" width="8.2" height="2.4" fill="#45a59b"/><rect x="983.71" y="160.2" width="1.1" height="10.5" fill="#ef5350"/><rect x="980.16" y="160.8" width="8.2" height="1.4" fill="#ef5350"/><rect x="994.13" y="158.5" width="1.1" height="17.8" fill="#ef5350"/><rect x="990.58" y="162.4" width="8.2" height="7.4" fill="#ef5350"/><rect x="1004.55" y="161.0" width="1.1" height="13.6" fill="#26a69a"/><rect x="1001.40" y="166.3" width="7.4" height="3.8" fill="#26a69a" stroke="#869ea1" stroke-width="0.8"/><rect x="1014.97" y="164.7" width="1.1" height="29.9" fill="#ef5350"/><rect x="1011.42" y="165.3" width="8.2" height="16.4" fill="#ef5350"/><rect x="1025.39" y="165.3" width="1.1" height="22.5" fill="#26a69a"/><rect x="1022.24" y="169.9" width="7.4" height="11.1" fill="#26a69a" stroke="#869ea1" stroke-width="0.8"/><rect x="1035.81" y="163.0" width="1.1" height="22.6" fill="#ef5350"/><rect x="1032.26" y="169.0" width="8.2" height="11.5" fill="#ef5350"/><rect x="1046.23" y="173.2" width="1.1" height="25.1" fill="#ef5350"/><rect x="1042.68" y="181.0" width="8.2" height="6.3" fill="#ef5350"/><rect x="1056.65" y="179.3" width="1.1" height="15.3" fill="#26a69a"/><rect x="1053.10" y="185.6" width="8.2" height="1.7" fill="#45a59b"/><rect x="1067.07" y="176.3" width="1.1" height="11.8" fill="#26a69a"/><rect x="1063.52" y="184.1" width="8.2" height="1.2" fill="#8d979c"/><rect x="1077.49" y="158.5" width="1.1" height="26.2" fill="#26a69a"/><rect x="1074.34" y="159.2" width="7.4" height="24.6" fill="#26a69a" stroke="#869ea1" stroke-width="0.8"/><rect x="1087.91" y="135.9" width="1.1" height="22.6" fill="#26a69a"/><rect x="1084.76" y="149.0" width="7.4" height="8.6" fill="#26a69a" stroke="#869ea1" stroke-width="0.8"/><rect x="1098.33" y="141.0" width="1.1" height="56.5" fill="#ef5350"/><rect x="1094.78" y="148.0" width="8.2" height="27.9" fill="#ef5350"/><rect x="1108.75" y="150.2" width="1.1" height="28.7" fill="#26a69a"/><rect x="1105.60" y="159.1" width="7.4" height="15.6" fill="#26a69a" stroke="#869ea1" stroke-width="0.8"/><rect x="1119.17" y="155.8" width="1.1" height="24.0" fill="#ef5350"/><rect x="1115.62" y="157.7" width="8.2" height="1.2" fill="#ef5350"/><rect x="1129.59" y="157.5" width="1.1" height="10.1" fill="#ef5350"/><rect x="1126.04" y="157.8" width="8.2" height="2.5" fill="#ef5350"/><rect x="1140.01" y="152.6" width="1.1" height="13.1" fill="#ef5350"/><rect x="1136.46" y="160.3" width="8.2" height="1.2" fill="#ef5350"/><rect x="1150.43" y="117.1" width="1.1" height="54.3" fill="#26a69a"/><rect x="1147.28" y="122.3" width="7.4" height="38.1" fill="#26a69a" stroke="#869ea1" stroke-width="0.8"/><rect x="1160.85" y="118.9" width="1.1" height="12.1" fill="#ef5350"/><rect x="1157.30" y="121.4" width="8.2" height="3.6" fill="#ef5350"/>
</g>
<g><line x1="11" x2="1460" y1="589.4" y2="589.4" stroke="#787b86" stroke-width="1" stroke-dasharray="4 4"/><line x1="11" x2="1460" y1="608.6" y2="608.6" stroke="#b5b8c2" stroke-width="1" stroke-dasharray="4 4"/><line x1="11" x2="1460" y1="627.7" y2="627.7" stroke="#787b86" stroke-width="1" stroke-dasharray="4 4"/></g>
<g clip-path="url(#cr)"><polyline points="11.0,605.6 15.2,609.0 25.6,608.7 36.0,609.0 46.5,613.4 56.9,612.9 67.3,613.9 77.7,611.6 88.1,602.2 98.6,603.5 109.0,603.0 119.4,592.6 129.8,599.8 140.2,600.9 150.7,597.2 161.1,602.4 171.5,597.8 181.9,597.2 192.3,598.3 202.8,603.0 213.2,605.8 223.6,612.1 234.0,613.6 244.4,612.3 254.9,612.1 265.3,608.2 275.7,594.4 286.1,595.7 296.5,596.7 307.0,593.3 317.4,587.1 327.8,585.8 338.2,585.5 348.6,575.4 359.1,573.5 369.5,572.5 379.9,576.1 390.3,580.1 400.7,579.3 411.2,577.7 421.6,578.5 432.0,578.2 442.4,576.1 452.8,582.1 463.3,584.7 473.7,583.4 484.1,584.5 494.5,584.5 504.9,582.9 515.4,581.9 525.8,578.0 536.2,576.1 546.6,578.2 557.0,579.5 567.5,588.1 577.9,597.8 588.3,587.3 598.7,599.8 609.1,598.0 619.6,597.8 630.0,594.6 640.4,594.1 650.8,606.1 661.2,598.5 671.7,599.3 682.1,597.5 692.5,597.8 702.9,599.6 713.3,600.6 723.8,598.0 734.2,597.5 744.6,599.1 755.0,593.9 765.4,590.5 775.9,588.6 786.3,581.9 796.7,578.2 807.1,580.3 817.5,584.5 828.0,582.4 838.4,585.3 848.8,585.5 859.2,601.7 869.6,600.9 880.1,595.7 890.5,595.4 900.9,601.4 911.3,600.4 921.7,605.1 932.2,599.8 942.6,601.7 953.0,596.5 963.4,595.7 973.8,595.2 984.3,595.9 994.7,600.1 1005.1,598.3 1015.5,605.3 1025.9,601.4 1036.4,605.8 1046.8,608.4 1057.2,607.9 1067.6,607.4 1078.0,598.3 1088.5,595.4 1098.9,606.4 1109.3,601.1 1119.7,601.4 1130.1,601.9 1140.6,602.2 1151.0,592.3 1161.4,593.6" fill="none" stroke="#7e57c2" stroke-width="1.2" stroke-linejoin="round"/><polyline points="11.0,611.6 52.0,609.0 119.5,606.4 161.5,604.8 203.0,601.7 224.0,601.1 271.0,604.3 307.0,602.4 338.5,600.4 364.6,595.2 390.0,588.1 410.8,584.0 442.1,579.8 478.5,578.8 515.0,580.3 556.7,580.3 577.5,582.7 614.0,586.0 650.4,589.9 681.7,593.9 713.0,597.8 744.0,598.5 775.4,597.2 780.0,597.2 797.0,594.4 828.2,590.7 859.4,589.2 890.7,589.2 922.0,591.2 942.8,594.4 974.0,596.7 1005.3,598.8 1036.5,600.1 1067.8,601.1 1088.6,600.9 1119.8,601.9 1140.7,602.4 1161.5,601.4" fill="none" stroke="#fbe64d" stroke-width="1.2" stroke-linejoin="round"/></g>
<line x1="1460.5" x2="1460.5" y1="28.5" y2="670.5" stroke="#5c5f69" stroke-width="1"/>
<line x1="10.5" x2="1525.5" y1="641.5" y2="641.5" stroke="#5c5f69" stroke-width="1"/>
<text y="21.0" font-size="13" fill="#131722" stroke="#131722" stroke-width="0.25"><tspan x="11.0" textLength="80.5" lengthAdjust="spacingAndGlyphs">Jake_Simmons</tspan> <tspan x="96.5" textLength="56.0" lengthAdjust="spacingAndGlyphs">published</tspan> <tspan x="157.5" textLength="13.0" lengthAdjust="spacingAndGlyphs">on</tspan> <tspan x="176.0" textLength="98.5" lengthAdjust="spacingAndGlyphs">TradingView.com,</tspan> <tspan x="280.8" textLength="19.7" lengthAdjust="spacingAndGlyphs">Jan</tspan> <tspan x="305.5" textLength="16.0" lengthAdjust="spacingAndGlyphs">09,</tspan> <tspan x="326.6" textLength="25.2" lengthAdjust="spacingAndGlyphs">2024</tspan> <tspan x="356.0" textLength="29.4" lengthAdjust="spacingAndGlyphs">03:44</tspan> <tspan x="390.6" textLength="32.8" lengthAdjust="spacingAndGlyphs">UTC-5</tspan></text>
<text y="48.9" font-size="12" fill="#50535c" stroke="#50535c" stroke-width="0.25"><tspan x="19.3" textLength="40.1" lengthAdjust="spacingAndGlyphs">Bitcoin</tspan> <tspan x="65.6" textLength="4.3" lengthAdjust="spacingAndGlyphs">/</tspan> <tspan x="75.2" textLength="22.2" lengthAdjust="spacingAndGlyphs">U.S.</tspan> <tspan x="103.1" textLength="33.7" lengthAdjust="spacingAndGlyphs">Dollar,</tspan> <tspan x="143.2" textLength="15.8" lengthAdjust="spacingAndGlyphs">1D,</tspan> <tspan x="165.0" textLength="47.7" lengthAdjust="spacingAndGlyphs">BINANCE</tspan></text>
<text x="221.4" y="48.9" font-size="12" fill="#50535c" font-weight="normal" stroke="#50535c" stroke-width="0.25" textLength="7.8" lengthAdjust="spacingAndGlyphs">O</text>
<text x="230.5" y="48.9" font-size="12" fill="#ef5350" font-weight="normal" stroke="#ef5350" stroke-width="0.25" textLength="48.4" lengthAdjust="spacingAndGlyphs">47021.55</text>
<text x="288.5" y="48.9" font-size="12" fill="#50535c" font-weight="normal" stroke="#50535c" stroke-width="0.25" textLength="7.3" lengthAdjust="spacingAndGlyphs">H</text>
<text x="296.4" y="48.9" font-size="12" fill="#ef5350" font-weight="normal" stroke="#ef5350" stroke-width="0.25" textLength="48.1" lengthAdjust="spacingAndGlyphs">47231.26</text>
<text x="354.2" y="48.9" font-size="12" fill="#50535c" font-weight="normal" stroke="#50535c" stroke-width="0.25" textLength="4.7" lengthAdjust="spacingAndGlyphs">L</text>
<text x="359.9" y="48.9" font-size="12" fill="#ef5350" font-weight="normal" stroke="#ef5350" stroke-width="0.25" textLength="48.4" lengthAdjust="spacingAndGlyphs">46310.58</text>
<text x="417.4" y="48.9" font-size="12" fill="#50535c" font-weight="normal" stroke="#50535c" stroke-width="0.25" textLength="6.6" lengthAdjust="spacingAndGlyphs">C</text>
<text x="424.5" y="48.9" font-size="12" fill="#ef5350" font-weight="normal" stroke="#ef5350" stroke-width="0.25" textLength="48.4" lengthAdjust="spacingAndGlyphs">46768.63</text>
<text x="482.6" y="48.9" font-size="12" fill="#ef5350" font-weight="normal" stroke="#ef5350" stroke-width="0.25" textLength="91.1" lengthAdjust="spacingAndGlyphs">−249.82 (−0.53%)</text>
<text y="66.7" font-size="12" fill="#50535c" stroke="#50535c" stroke-width="0.25"><tspan x="19.1" textLength="17.0" lengthAdjust="spacingAndGlyphs">Vol</tspan> <tspan x="41.8" textLength="2.4" lengthAdjust="spacingAndGlyphs">·</tspan> <tspan x="48.8" textLength="21.9" lengthAdjust="spacingAndGlyphs">BTC</tspan></text>
<text x="80.1" y="66.7" font-size="12" fill="#ef5350" font-weight="normal" stroke="#ef5350" stroke-width="0.25" textLength="18.5" lengthAdjust="spacingAndGlyphs">104</text>
<text y="84.4" font-size="12" fill="#50535c" stroke="#50535c" stroke-width="0.25"><tspan x="19.1" textLength="24.3" lengthAdjust="spacingAndGlyphs">EMA</tspan> <tspan x="47.9" textLength="82.0" lengthAdjust="spacingAndGlyphs">20/50/100/200</tspan></text>
<text x="138.7" y="84.4" font-size="12" fill="#ff0000" font-weight="normal" stroke="#ff0000" stroke-width="0.25" textLength="48.4" lengthAdjust="spacingAndGlyphs">43993.58</text>
<text x="195.9" y="84.4" font-size="12" fill="#ff8c00" font-weight="normal" stroke="#ff8c00" stroke-width="0.25" textLength="48.4" lengthAdjust="spacingAndGlyphs">41756.04</text>
<text x="253.9" y="84.4" font-size="12" fill="#00ffff" font-weight="normal" stroke="#00ffff" stroke-width="0.25" textLength="47.7" lengthAdjust="spacingAndGlyphs">38389.07</text>
<text x="311.2" y="84.4" font-size="12" fill="#0000ff" font-weight="normal" stroke="#0000ff" stroke-width="0.25" textLength="47.1" lengthAdjust="spacingAndGlyphs">34442.27</text>
<text y="102.1" font-size="12" fill="#50535c" stroke="#50535c" stroke-width="0.25"><tspan x="19.1" textLength="17.0" lengthAdjust="spacingAndGlyphs">Vol</tspan> <tspan x="41.8" textLength="2.4" lengthAdjust="spacingAndGlyphs">·</tspan> <tspan x="48.8" textLength="21.9" lengthAdjust="spacingAndGlyphs">BTC</tspan></text>
<text x="80.1" y="102.1" font-size="12" fill="#ef5350" font-weight="normal" stroke="#ef5350" stroke-width="0.25" textLength="18.5" lengthAdjust="spacingAndGlyphs">104</text>
<text x="1190.5" y="104.8" font-size="12" fill="#089981" font-weight="normal" stroke="#089981" stroke-width="0.25" textLength="91.0" lengthAdjust="spacingAndGlyphs">0.618 (48692.26)</text>
<text x="1190.5" y="189.7" font-size="12" fill="#4caf50" font-weight="normal" stroke="#4caf50" stroke-width="0.25" textLength="78.5" lengthAdjust="spacingAndGlyphs">0.5 (42340.80)</text>
<text x="1190.5" y="288.3" font-size="12" fill="#ff9800" font-weight="normal" stroke="#ff9800" stroke-width="0.25" textLength="91.0" lengthAdjust="spacingAndGlyphs">0.382 (35989.33)</text>
<text x="1190.5" y="438.3" font-size="12" fill="#f23645" font-weight="normal" stroke="#f23645" stroke-width="0.25" textLength="91.0" lengthAdjust="spacingAndGlyphs">0.236 (28130.74)</text>
<text y="590.3" font-size="12" fill="#50535c" stroke="#50535c" stroke-width="0.25"><tspan x="19.5" textLength="17.0" lengthAdjust="spacingAndGlyphs">RSI</tspan> <tspan x="41.7" textLength="18.7" lengthAdjust="spacingAndGlyphs">(14,</tspan> <tspan x="65.6" textLength="34.7" lengthAdjust="spacingAndGlyphs">close,</tspan> <tspan x="104.2" textLength="27.3" lengthAdjust="spacingAndGlyphs">SMA,</tspan> <tspan x="139.3" textLength="13.0" lengthAdjust="spacingAndGlyphs">14,</tspan> <tspan x="159.4" textLength="9.4" lengthAdjust="spacingAndGlyphs">2)</tspan></text>
<text x="177.9" y="590.3" font-size="12" fill="#7e57c2" font-weight="normal" stroke="#7e57c2" stroke-width="0.25" textLength="29.7" lengthAdjust="spacingAndGlyphs">65.80</text>
<text x="216.4" y="590.3" font-size="12" fill="#fbe64d" font-weight="normal" stroke="#fbe64d" stroke-width="0.25" textLength="29.2" lengthAdjust="spacingAndGlyphs">57.24</text>
<text x="254.7" y="590.3" font-size="12" fill="#50535c" font-weight="normal" stroke="#50535c" stroke-width="0.25" textLength="10.9" lengthAdjust="spacingAndGlyphs">∅</text>
<text x="275.5" y="590.3" font-size="12" fill="#50535c" font-weight="normal" stroke="#50535c" stroke-width="0.25" textLength="10.5" lengthAdjust="spacingAndGlyphs">∅</text>
<text x="1467.7" y="88.9" font-size="12" fill="#454852" font-weight="normal" stroke="#454852" stroke-width="0.25" textLength="47.7" lengthAdjust="spacingAndGlyphs">50000.00</text>
<text x="1467.7" y="194.2" font-size="12" fill="#454852" font-weight="normal" stroke="#454852" stroke-width="0.25" textLength="47.7" lengthAdjust="spacingAndGlyphs">42000.00</text>
<text x="1467.7" y="223.9" font-size="12" fill="#454852" font-weight="normal" stroke="#454852" stroke-width="0.25" textLength="47.7" lengthAdjust="spacingAndGlyphs">40000.00</text>
<text x="1467.7" y="255.1" font-size="12" fill="#454852" font-weight="normal" stroke="#454852" stroke-width="0.25" textLength="47.7" lengthAdjust="spacingAndGlyphs">38000.00</text>
<text x="1467.7" y="288.1" font-size="12" fill="#454852" font-weight="normal" stroke="#454852" stroke-width="0.25" textLength="47.7" lengthAdjust="spacingAndGlyphs">36000.00</text>
<text x="1467.7" y="322.8" font-size="12" fill="#454852" font-weight="normal" stroke="#454852" stroke-width="0.25" textLength="47.7" lengthAdjust="spacingAndGlyphs">34000.00</text>
<text x="1467.7" y="359.8" font-size="12" fill="#454852" font-weight="normal" stroke="#454852" stroke-width="0.25" textLength="47.7" lengthAdjust="spacingAndGlyphs">32000.00</text>
<text x="1467.7" y="399.0" font-size="12" fill="#454852" font-weight="normal" stroke="#454852" stroke-width="0.25" textLength="47.7" lengthAdjust="spacingAndGlyphs">30000.00</text>
<text x="1467.7" y="430.3" font-size="12" fill="#454852" font-weight="normal" stroke="#454852" stroke-width="0.25" textLength="47.7" lengthAdjust="spacingAndGlyphs">28500.00</text>
<text x="1467.7" y="465.4" font-size="12" fill="#454852" font-weight="normal" stroke="#454852" stroke-width="0.25" textLength="47.7" lengthAdjust="spacingAndGlyphs">26900.00</text>
<text x="1467.7" y="500.4" font-size="12" fill="#454852" font-weight="normal" stroke="#454852" stroke-width="0.25" textLength="47.7" lengthAdjust="spacingAndGlyphs">25400.00</text>
<text x="1467.7" y="534.9" font-size="12" fill="#454852" font-weight="normal" stroke="#454852" stroke-width="0.25" textLength="47.7" lengthAdjust="spacingAndGlyphs">24000.00</text>
<text x="1467.7" y="566.1" font-size="12" fill="#454852" font-weight="normal" stroke="#454852" stroke-width="0.25" textLength="47.7" lengthAdjust="spacingAndGlyphs">22800.00</text>
<text x="1467.7" y="584.6" font-size="12" fill="#454852" font-weight="normal" stroke="#454852" stroke-width="0.25" textLength="29.8" lengthAdjust="spacingAndGlyphs">80.00</text>
<text x="1467.7" y="622.6" font-size="12" fill="#454852" font-weight="normal" stroke="#454852" stroke-width="0.25" textLength="29.8" lengthAdjust="spacingAndGlyphs">40.00</text>
<rect x="1464.5" y="32.5" width="56" height="27" rx="3" fill="#fff" stroke="#e6e9f0"/>
<text x="1474.0" y="50.2" font-size="11" fill="#131722" font-weight="normal" stroke="#131722" stroke-width="0.25" textLength="19.2" lengthAdjust="spacingAndGlyphs">USD</text>
<rect x="1410" y="116.5" width="48.8" height="16" rx="2" fill="#ef5350"/>
<text x="1414.3" y="129.0" font-size="12" fill="#fff" font-weight="normal" stroke="#fff" stroke-width="0.25" textLength="39.9" lengthAdjust="spacingAndGlyphs">BTCUSD</text>
<rect x="1460" y="116.5" width="60.5" height="30" rx="2" fill="#ef5350"/>
<text x="1467.7" y="129.2" font-size="12" fill="#fff" font-weight="normal" stroke="#fff" stroke-width="0.25" textLength="47.7" lengthAdjust="spacingAndGlyphs">46768.63</text>
<text x="1467.7" y="142.5" font-size="12" fill="#fff" font-weight="normal" stroke="#fff" stroke-width="0.25" textLength="47.7" lengthAdjust="spacingAndGlyphs" fill-opacity="0.75">15:15:39</text>
<text x="109.8" y="660.2" font-size="12" fill="#454852" font-weight="normal" stroke="#454852" stroke-width="0.25" textLength="19.0" lengthAdjust="spacingAndGlyphs">Oct</text>
<text x="199.5" y="660.2" font-size="12" fill="#454852" font-weight="normal" stroke="#454852" stroke-width="0.25" textLength="6.3" lengthAdjust="spacingAndGlyphs">9</text>
<text x="342.2" y="660.2" font-size="12" fill="#454852" font-weight="normal" stroke="#454852" stroke-width="0.25" textLength="12.6" lengthAdjust="spacingAndGlyphs">23</text>
<text x="432.1" y="660.2" font-size="12" fill="#454852" font-weight="normal" stroke="#454852" stroke-width="0.25" textLength="20.5" lengthAdjust="spacingAndGlyphs">Nov</text>
<text x="561.1" y="660.2" font-size="12" fill="#454852" font-weight="normal" stroke="#454852" stroke-width="0.25" textLength="12.6" lengthAdjust="spacingAndGlyphs">13</text>
<text x="644.4" y="660.2" font-size="12" fill="#454852" font-weight="normal" stroke="#454852" stroke-width="0.25" textLength="12.6" lengthAdjust="spacingAndGlyphs">21</text>
<text x="744.7" y="660.2" font-size="12" fill="#454852" font-weight="normal" stroke="#454852" stroke-width="0.25" textLength="20.5" lengthAdjust="spacingAndGlyphs">Dec</text>
<text x="853.1" y="660.2" font-size="12" fill="#454852" font-weight="normal" stroke="#454852" stroke-width="0.25" textLength="12.0" lengthAdjust="spacingAndGlyphs">11</text>
<text x="936.2" y="660.2" font-size="12" fill="#454852" font-weight="normal" stroke="#454852" stroke-width="0.25" textLength="12.6" lengthAdjust="spacingAndGlyphs">19</text>
<text x="1217.5" y="660.2" font-size="12" fill="#454852" font-weight="normal" stroke="#454852" stroke-width="0.25" textLength="12.6" lengthAdjust="spacingAndGlyphs">15</text>
<text x="1300.9" y="660.2" font-size="12" fill="#454852" font-weight="normal" stroke="#454852" stroke-width="0.25" textLength="12.6" lengthAdjust="spacingAndGlyphs">23</text>
<text x="1391.5" y="660.2" font-size="12" fill="#454852" font-weight="normal" stroke="#454852" stroke-width="0.25" textLength="19.0" lengthAdjust="spacingAndGlyphs">Feb</text>
<text x="1065.4" y="660.2" font-size="12" fill="#454852" font-weight="bold" stroke="#454852" stroke-width="0" textLength="25.0" lengthAdjust="spacingAndGlyphs">2024</text>
<g fill="#131722"><path d="M10.8 684H18.8V693.7H14.8V687.4H10.8Z"/><circle cx="22.2" cy="685.8" r="1.8"/><path d="M25.9 684H30.9L27.1 693.7H22.4Z"/></g>
<text x="35.2" y="694.6" font-size="14" fill="#131722" font-weight="normal" stroke="#131722" stroke-width="0.25" textLength="74.4" lengthAdjust="spacingAndGlyphs">TradingView</text>
</svg>
</body></html>
